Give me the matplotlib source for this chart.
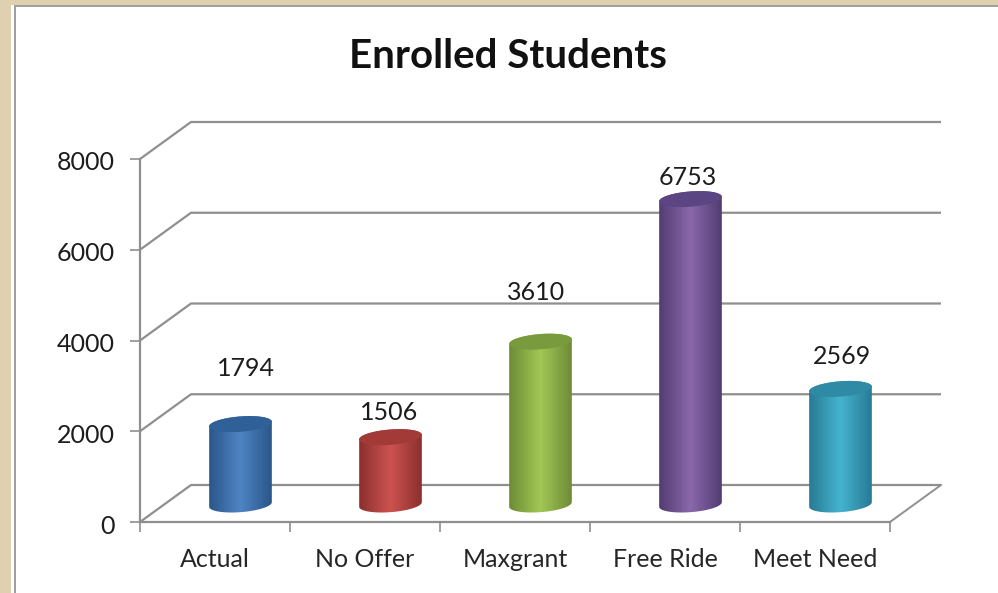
"""Enrolled Students: faux 3D cylinder chart, drawn on one flat axes."""

import matplotlib.pyplot as plt
import numpy as np
from matplotlib.colors import LinearSegmentedColormap
from matplotlib.patches import Polygon, Rectangle
from matplotlib.transforms import ScaledTranslation

categories = ["Actual", "No Offer", "Maxgrant", "Free Ride", "Meet Need"]
values = [1794, 1506, 3610, 6753, 2569]
y_ticks = [0, 2000, 4000, 6000, 8000]

# edge / centre / cap colours per bar
edge_colors = ["#2a5689", "#8a302e", "#6d8b36", "#523c72", "#287a93"]
mid_colors = ["#4f84c4", "#cc5350", "#a2c855", "#8a68ab", "#45b4d0"]
cap_colors = ["#2f6098", "#a23a38", "#7a9a3e", "#5c4583", "#2f8aa6"]
# manual label offsets in px from the bar's top centre, as in the original
label_offsets = [(5, 44), (-1, 13), (-4, 38), (-3, 10), (1, 21)]

BG = "#dfd0b0"
AXIS = "#8f8f8f"
FONT = "Lato"

# pixel frame of the front plane
W, H = 998, 593
LEFT, RIGHT, BOTTOM, TOP = 140, 890, 522, 159
PX_X = (RIGHT - LEFT) / len(categories)
PX_Y = (BOTTOM - TOP) / y_ticks[-1]
DEPTH_X, DEPTH_Y = 51 / PX_X, 37 / PX_Y  # back wall shift in data units

plt.rcParams["font.family"] = [FONT, "DejaVu Sans"]

fig = plt.figure(figsize=(W / 100, H / 100), dpi=100, facecolor=BG)
fig.add_artist(Rectangle((11 / W, 0), 1, 1 - 5 / H, transform=fig.transFigure,
                         facecolor="white", edgecolor="none", zorder=-3))
fig.add_artist(Rectangle((14 / W, 0), 2 / W, 1 - 5 / H, transform=fig.transFigure,
                         facecolor="#a0a0a0", edgecolor="none", zorder=-2))
fig.add_artist(Rectangle((14 / W, 1 - 7 / H), 1, 2 / H, transform=fig.transFigure,
                         facecolor="#a0a0a0", edgecolor="none", zorder=-2))

ax = fig.add_axes([LEFT / W, 1 - BOTTOM / H, (RIGHT - LEFT) / W, (BOTTOM - TOP) / H])
ax.patch.set_alpha(0)
n = len(categories)

# back wall and side lines
for v in y_ticks:
    ax.plot([0, DEPTH_X, n + DEPTH_X], [v, v + DEPTH_Y, v + DEPTH_Y], color=AXIS,
            lw=1.6, clip_on=False, zorder=1, solid_capstyle="butt")
ax.plot([n, n + DEPTH_X], [0, DEPTH_Y], color=AXIS, lw=1.4, clip_on=False, zorder=1)

ELL_A, ELL_DX, ELL_DY = 30.0, 9.0, 8.0  # px


def ellipse_xy(cx, cy, t):
    """Tilted ellipse outline in data units."""
    x = cx + (ELL_A * np.cos(t) + ELL_DX * np.sin(t)) / PX_X
    y = cy + (ELL_DY * np.sin(t)) / PX_Y
    return x, y


T0 = np.arctan2(ELL_DX, ELL_A)
for i, v in enumerate(values):
    cx = i + 0.5 + DEPTH_X / 2
    base = DEPTH_Y / 2 - 1 / PX_Y
    top = v + base - 1 / PX_Y
    t_up = np.linspace(T0, T0 + np.pi, 60)
    t_down = np.linspace(T0 + np.pi, T0 + 2 * np.pi, 60)
    x_top, y_top = ellipse_xy(cx, top, t_up)
    x_bot, y_bot = ellipse_xy(cx, base, t_down)
    body = Polygon(np.r_[np.c_[x_top, y_top], np.c_[x_bot, y_bot]], closed=True,
                   transform=ax.transData, facecolor="none", edgecolor="none", zorder=3)
    ax.add_patch(body)
    cmap = LinearSegmentedColormap.from_list("cyl", [edge_colors[i], mid_colors[i], edge_colors[i]])
    im = ax.imshow(np.linspace(0, 1, 128)[None, :], cmap=cmap, aspect="auto", zorder=3,
                   extent=[x_top.min(), x_top.max(), 0, top + 500])
    im.set_clip_path(body)
    tt = np.linspace(0, 2 * np.pi, 120)
    x_cap, y_cap = ellipse_xy(cx, top, tt)
    ax.add_patch(Polygon(np.c_[x_cap, y_cap], closed=True, facecolor=cap_colors[i],
                         edgecolor="none", zorder=4))
    ax.annotate(str(v), xy=(cx, top), xytext=label_offsets[i], textcoords="offset pixels",
                ha="center", va="bottom", fontsize=18, color="#1c1c1c", zorder=5)

ax.set_xlim(0, n)
ax.set_ylim(y_ticks[0], y_ticks[-1])
ax.set_yticks(y_ticks)
ax.set_xticks(range(n + 1))
ax.set_xticklabels([])
ax.set_xticks(np.arange(n) + 0.5, categories, minor=True)
ax.tick_params(axis="x", which="minor", length=0, pad=19, labelsize=18, labelcolor="#262626")
ax.tick_params(axis="x", which="major", length=7, width=1.2, color=AXIS)
ax.tick_params(axis="y", length=7, width=1.2, color=AXIS, pad=11, labelsize=18, labelcolor="#1c1c1c")
for lab in ax.get_yticklabels():
    lab.set_transform(lab.get_transform() + ScaledTranslation(0, -2 / 100, fig.dpi_scale_trans))
for side in ("top", "right"):
    ax.spines[side].set_visible(False)
for side in ("left", "bottom"):
    ax.spines[side].set_color(AXIS)
    ax.spines[side].set_linewidth(1.6)

fig.text(508 / W, 1 - 57 / H, "Enrolled Students", ha="center", va="center",
         fontsize=29, fontweight="bold", color="#111111")

fig.savefig("out.png", dpi=100, facecolor=BG)
